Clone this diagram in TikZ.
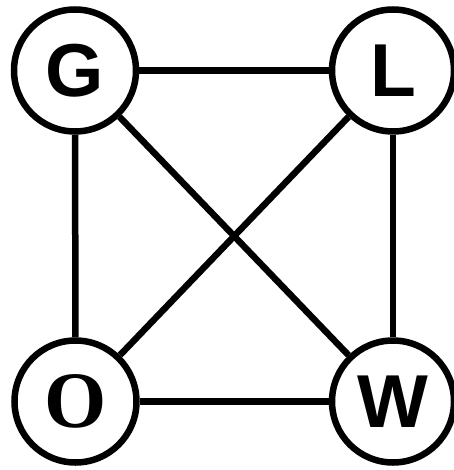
\documentclass[tikz,border=0pt]{standalone}
\usepackage{fontspec}
\newfontfamily\lettersans{Liberation Sans}
\newfontfamily\letterserif{Liberation Serif}
\begin{document}
\begin{tikzpicture}[x=1pt,y=-1pt,
  vtx/.style={circle,draw=black,fill=white,line width=6.5pt,minimum size=122pt,inner sep=0pt},
  edge/.style={draw=black,line width=6.5pt},
  sansletter/.style={font=\lettersans\bfseries\fontsize{75}{80}\selectfont},
  serifletter/.style={font=\letterserif\bfseries\fontsize{80}{84}\selectfont}]
\useasboundingbox (0,0) rectangle (453,470);
\node[vtx,sansletter] (G) at (75,70.5) {\raisebox{-4pt}{G}};
\node[vtx,sansletter] (L) at (393,70.5) {\raisebox{-1pt}{L}};
\node[vtx,serifletter] (O) at (75.5,401.5) {\raisebox{-6pt}{O}};
\node[vtx,sansletter] (W) at (393,401.5) {\raisebox{-3pt}{W}};
\draw[edge] (G) -- (L);
\draw[edge] (G) -- (O);
\draw[edge] (L) -- (W);
\draw[edge] (O) -- (W);
\draw[edge] (G) -- (W);
\draw[edge] (L) -- (O);
\end{tikzpicture}
\end{document}
